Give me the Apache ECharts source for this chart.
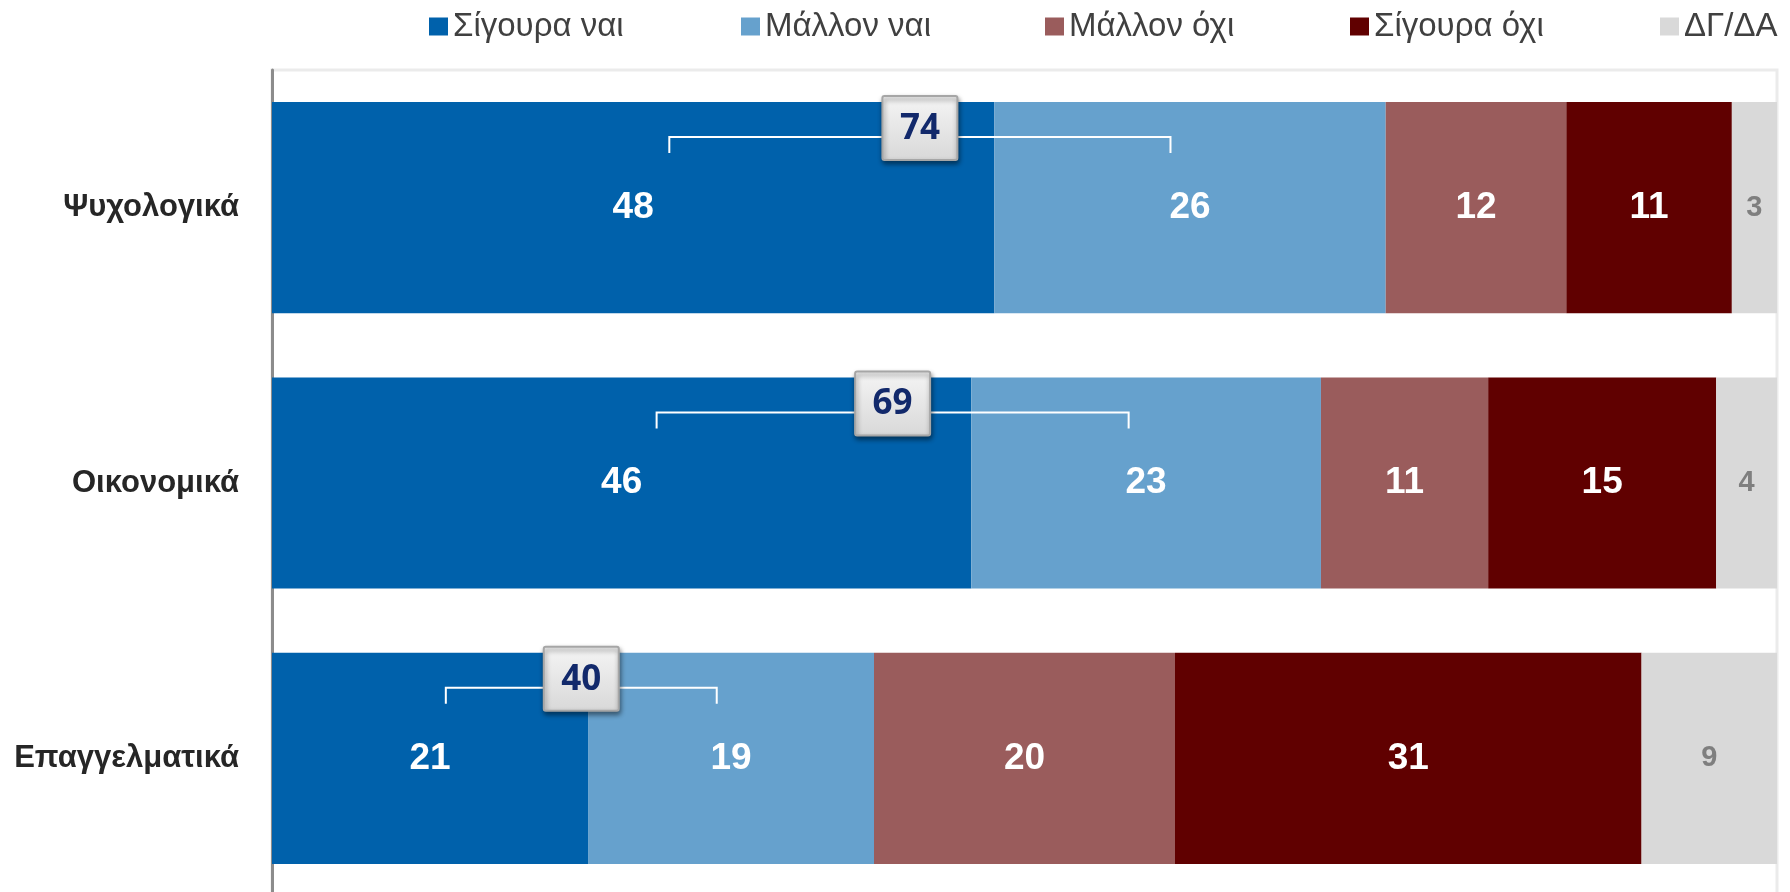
<!DOCTYPE html>
<html>
<head>
<meta charset="utf-8">
<script src="https://cdn.jsdelivr.net/npm/echarts@6/dist/echarts.min.js"></script>
<style>
html,body{margin:0;padding:0;background:#fff;}
#chart1{width:1790px;height:892px;}
</style>
</head>
<body>
<div id="chart1"></div>
<script>
// κατηγορίες (πάνω προς κάτω)
var categories=["Ψυχολογικά","Οικονομικά","Επαγγελματικά"];
var seriesNames=["Σίγουρα ναι","Μάλλον ναι","Μάλλον όχι","Σίγουρα όχι","ΔΓ/ΔΑ"];
var sureYes=[48,46,21];
var ratherYes=[26,23,19];
var ratherNo=[12,11,20];
var sureNo=[11,15,31];
var dkNa=[3,4,9];
var yesTotal=[74,69,40];

var colors=["#0061AB","#66A1CD","#9A5C5C","#600000","#D9D9D9"];
var labelFont="'Liberation Sans',Arial,sans-serif";

var raw=[sureYes,ratherYes,ratherNo,sureNo,dkNa];
// κάθε γραμμή γεμίζει το 100%
var rowSum=categories.map(function (c,i) {
    return raw.reduce(function (s,arr) {return s+arr[i];},0);
});
var pct=function (arr) {
    return arr.map(function (v,i) {return v*100/rowSum[i];});
};

var series=raw.map(function (arr,k) {
    var last=k===4;
    return {
        name:seriesNames[k],
        type:"bar",
        stack:"all",
        barCategoryGap:"23.3%",
        itemStyle:{color:colors[k]},
        label:{
            show:true,
            position:"inside",
            color:last?"#7F7F7F":"#ffffff",
            fontFamily:labelFont,
            fontWeight:"bold",
            fontSize:last?29:37,
            formatter:function (p) {return String(raw[k][p.dataIndex]);}
        },
        data:pct(arr)
    };
});

// πλαίσιο με το σύνολο "ναι" και αγκύλη
var calloutData=categories.map(function (c,i) {
    return [i,sureYes[i]*100/rowSum[i],ratherYes[i]*100/rowSum[i],yesTotal[i]];
});
series.push({
    type:"custom",
    coordinateSystem:"cartesian2d",
    z:10,
    clip:false,
    encode:{y:0,x:[1,2]},
    renderItem:function (params,api) {
        var cat=api.value(0),v1=api.value(1),v2=api.value(2);
        var cy=api.coord([0,cat])[1];
        var barH=api.size([0,1])[1]*0.767;
        var top=cy-barH/2;
        var xL=api.coord([0.55*v1,cat])[0];
        var xR=api.coord([v1+0.45*v2,cat])[0];
        var yb=top+35,yt=top+51;
        var bx=(xL+xR)/2,by=top+26;
        var w=75,h=64;
        return {
            type:"group",
            children:[
                {type:"polyline",shape:{points:[[xL,yt],[xL,yb],[xR,yb],[xR,yt]]},
                    style:{stroke:"#ffffff",lineWidth:2,fill:null}},
                {type:"rect",shape:{x:bx-w/2,y:by-h/2,width:w,height:h,r:2},
                    style:{
                        fill:{type:"linear",x:0,y:0,x2:0,y2:1,colorStops:[{offset:0,color:"#f5f5f5"},{offset:1,color:"#d8d8d8"}]},
                        stroke:"#a6a6a6",lineWidth:2,
                        shadowBlur:5,shadowColor:"rgba(0,0,0,0.45)",shadowOffsetX:1,shadowOffsetY:3
                    }},
                {type:"text",style:{text:String(api.value(3)),x:bx,y:by+1,align:"center",verticalAlign:"middle",
                    fontFamily:"'Open Sans'",fontWeight:"bold",fontSize:35,fill:"#12296B"}}
            ]
        };
    },
    data:calloutData
});

// legend θέσεις
var legendLeft=[429,741,1045,1350,1660];
var legends=seriesNames.map(function (n,k) {
    return {
        left:legendLeft[k],
        top:10,
        padding:0,
        itemWidth:19,
        itemHeight:18,
        itemGap:0,
        icon:"rect",
        selectedMode:false,
        textStyle:{color:"#404040",fontSize:33,fontFamily:labelFont},
        data:[n]
    };
});

var chart=echarts.init(document.getElementById("chart1"));
var option={
    animation:false,
    legend:legends,
    grid:{
        left:272,right:13,top:70,height:826,
        outerBoundsMode:"none",
        show:true,borderColor:"#EBEBEB",borderWidth:3,
        containLabel:false
    },
    xAxis:{
        type:"value",min:0,max:100,
        show:false
    },
    yAxis:{
        type:"category",
        inverse:true,
        data:categories,
        axisTick:{show:false},
        axisLine:{lineStyle:{color:"#8C8C8C",width:3}},
        axisLabel:{
            margin:33,
            color:"#262626",
            fontFamily:labelFont,
            fontWeight:"bold",
            fontSize:31
        }
    },
    series:series
};
chart.setOption(option);
</script>
</body>
</html>
